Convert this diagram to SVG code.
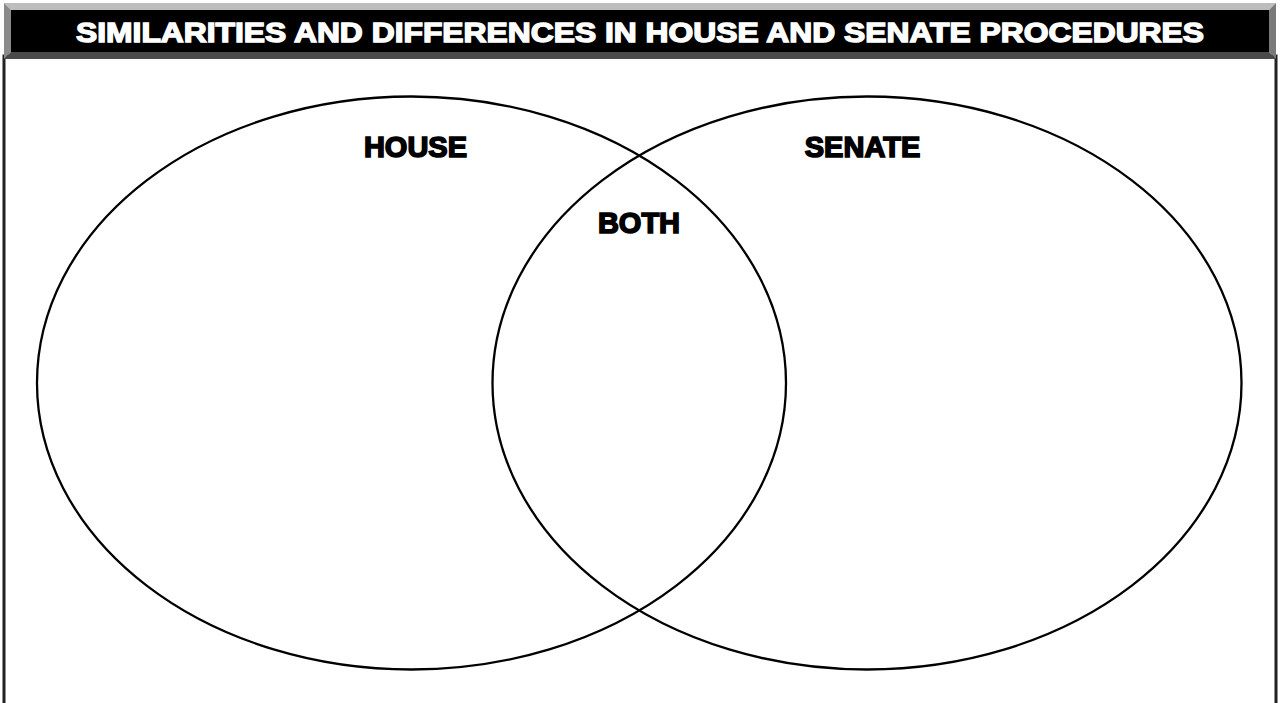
<svg xmlns="http://www.w3.org/2000/svg" width="1280" height="703" viewBox="0 0 1280 703">
<style>
.lbl{font-family:"Liberation Sans",Arial,sans-serif;font-weight:bold;fill:#000;stroke:#000;stroke-width:1.6;text-anchor:middle}
.circle{fill:none;stroke:#000;stroke-width:2.3}
</style>
<rect width="1280" height="703" fill="#fff"/>
<g id="frame">
<rect x="4" y="56" width="1272" height="660" fill="#fff" stroke="#222" stroke-width="3"/>
</g>
<g id="header">
<polygon points="4,3 1276,3 1269,10 11,10" fill="#bdbdbd"/>
<polygon points="4,3 11,10 11,52 4,59" fill="#8a8a8a"/>
<polygon points="1276,3 1269,10 1269,52 1276,59" fill="#7a7a7a"/>
<polygon points="4,59 11,52 1269,52 1276,59" fill="#4a4a4a"/>
<rect x="11" y="10" width="1258" height="42" fill="#000"/>
<text x="640" y="42" font-family="Liberation Sans,Arial,sans-serif" font-weight="bold" font-size="27" fill="#fff" stroke="#fff" stroke-width="1.4" text-anchor="middle" textLength="1128" lengthAdjust="spacingAndGlyphs">SIMILARITIES AND DIFFERENCES IN HOUSE AND SENATE PROCEDURES</text>
</g>
<g id="house">
<ellipse class="circle" cx="411.5" cy="383" rx="374.5" ry="286.5"/>
<text class="lbl" x="415.5" y="157" font-size="29">HOUSE</text>
</g>
<g id="senate">
<ellipse class="circle" cx="867" cy="383" rx="374.5" ry="286.5"/>
<text class="lbl" x="862.5" y="157" font-size="29">SENATE</text>
</g>
<g id="both">
<text class="lbl" x="639" y="233" font-size="29">BOTH</text>
</g>
<g id="connectors"/>
</svg>
